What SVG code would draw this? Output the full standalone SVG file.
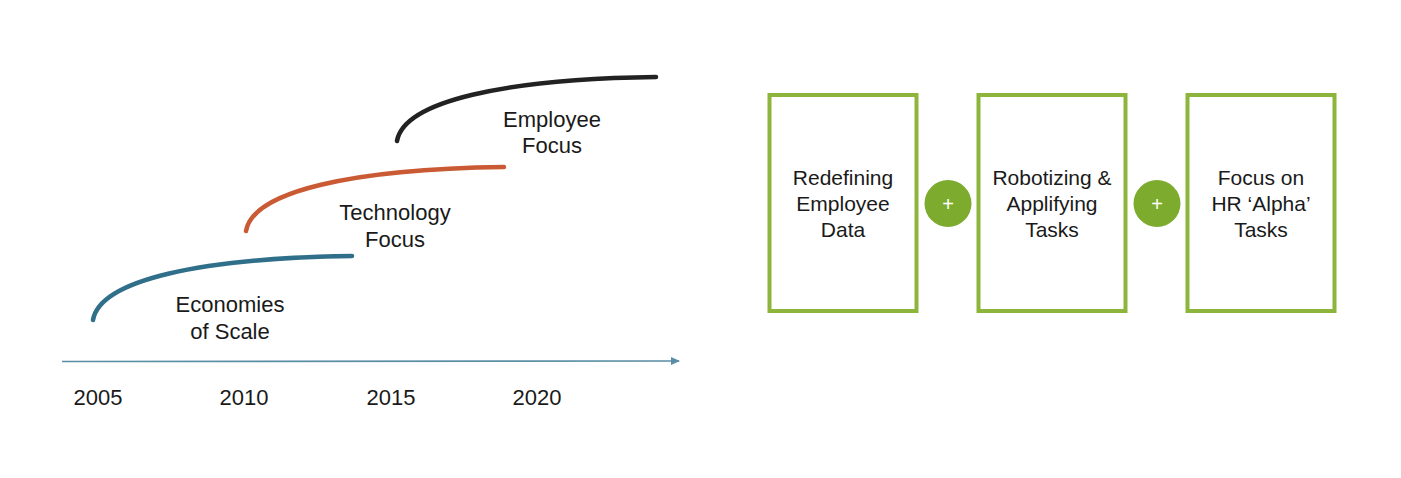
<svg xmlns="http://www.w3.org/2000/svg" width="1401" height="478" viewBox="0 0 1401 478">
<style>
  .lbl { font-family: "Liberation Sans", Arial, sans-serif; fill: #1a1a1a; text-anchor: middle; }
  .tl { font-size: 22px; }
  .bx { font-size: 21px; }
  .box { fill: #ffffff; stroke: #8db53c; stroke-width: 4; }
  .plus { fill: #7dab2e; }
  .pl { font-family: "Liberation Sans", Arial, sans-serif; font-size: 20px; fill: #ffffff; text-anchor: middle; }
  .curve { fill: none; stroke-width: 4.5; stroke-linecap: round; }
</style>
<defs>
  <marker id="arr" markerWidth="10" markerHeight="8" refX="8" refY="4" orient="auto" markerUnits="userSpaceOnUse">
    <path d="M0,0 L9,4 L0,8 Z" fill="#5a8ea5"/>
  </marker>
</defs>
<rect width="1401" height="478" fill="#ffffff"/>

<g id="connectors">
  <line x1="62" y1="361.5" x2="679" y2="361" stroke="#5a8ea5" stroke-width="1.6" marker-end="url(#arr)"/>
</g>

<g id="curve-economies">
  <path class="curve" stroke="#2f6f89" d="M93,320 C100,280 200,258 352,256"/>
  <text class="lbl tl" x="230" y="312">Economies</text>
  <text class="lbl tl" x="230" y="339">of Scale</text>
</g>
<g id="curve-technology">
  <path class="curve" stroke="#c95a34" d="M246,231 C253,191 353,169 504,167"/>
  <text class="lbl tl" x="395" y="220">Technology</text>
  <text class="lbl tl" x="395" y="247">Focus</text>
</g>
<g id="curve-employee">
  <path class="curve" stroke="#222222" d="M397,141 C404,101 505,79 656,77"/>
  <text class="lbl tl" x="552" y="127">Employee</text>
  <text class="lbl tl" x="552" y="153">Focus</text>
</g>

<g id="years">
  <text class="lbl tl" x="98" y="405">2005</text>
  <text class="lbl tl" x="244" y="405">2010</text>
  <text class="lbl tl" x="391" y="405">2015</text>
  <text class="lbl tl" x="537" y="405">2020</text>
</g>

<g id="box1">
  <rect class="box" x="769.5" y="95" width="147" height="216"/>
  <text class="lbl bx" x="843" y="185">Redefining</text>
  <text class="lbl bx" x="843" y="211">Employee</text>
  <text class="lbl bx" x="843" y="237">Data</text>
</g>
<g id="plus1">
  <circle class="plus" cx="948" cy="203.5" r="23.5"/>
  <text class="pl" x="948" y="210.5">+</text>
</g>
<g id="box2">
  <rect class="box" x="978.5" y="95" width="147" height="216"/>
  <text class="lbl bx" x="1052" y="185">Robotizing &amp;</text>
  <text class="lbl bx" x="1052" y="211">Applifying</text>
  <text class="lbl bx" x="1052" y="237">Tasks</text>
</g>
<g id="plus2">
  <circle class="plus" cx="1157" cy="203.5" r="23.5"/>
  <text class="pl" x="1157" y="210.5">+</text>
</g>
<g id="box3">
  <rect class="box" x="1187.5" y="95" width="147" height="216"/>
  <text class="lbl bx" x="1261" y="185">Focus on</text>
  <text class="lbl bx" x="1261" y="211">HR ‘Alpha’</text>
  <text class="lbl bx" x="1261" y="237">Tasks</text>
</g>
</svg>
